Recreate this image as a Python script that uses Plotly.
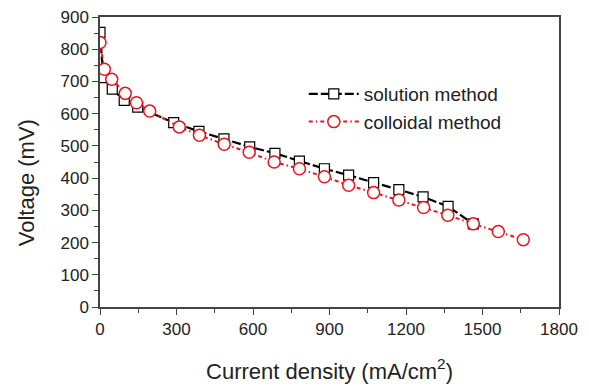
import plotly.graph_objects as go

# Solution method (black squares)
sol_x = [0, 13, 48, 95, 148, 289, 388, 486, 587, 686, 782, 880, 975, 1073, 1172, 1267, 1365, 1464]
sol_y = [852, 712, 676, 641, 620, 572, 545, 522, 497, 477, 453, 429, 409, 386, 364, 342, 312, 258]

# Colloidal method (red circles)
col_x = [0, 17, 46, 99, 143, 195, 311, 390, 487, 585, 683, 782, 880, 975, 1073, 1172, 1269, 1364, 1464, 1562, 1660]
col_y = [821, 738, 707, 663, 634, 608, 559, 533, 505, 480, 450, 429, 404, 378, 355, 332, 309, 285, 258, 234, 209]

x_ticks = [0, 300, 600, 900, 1200, 1500, 1800]
y_ticks = [0, 100, 200, 300, 400, 500, 600, 700, 800, 900]

FONT = "Liberation Sans, Arial, Helvetica, sans-serif"

fig = go.Figure()
fig.add_trace(go.Scatter(
    x=sol_x, y=sol_y, mode="lines+markers", name="solution method",
    line=dict(color="black", width=2.2, dash="9px,3px"),
    marker=dict(symbol="square", size=10, color="white", line=dict(width=1.2, color="black")),
))
fig.add_trace(go.Scatter(
    x=col_x, y=col_y, mode="lines+markers", name="colloidal method",
    line=dict(color="#e8141c", width=2, dash="4px,3px,1.5px,3px"),
    marker=dict(symbol="circle", size=12, color="white", line=dict(width=1.5, color="#e8141c")),
))

axis_common = dict(
    showline=True, linecolor="#444", linewidth=1.5, mirror=True,
    ticks="outside", ticklen=6, tickwidth=1.2, tickcolor="#444",
    showgrid=False, zeroline=False, automargin=False,
    ticklabeloverflow="allow",
    tickfont=dict(family=FONT, size=17, color="#222"),
)

fig.update_layout(
    width=589, height=386,
    margin=dict(l=92, r=38, t=9, b=87),
    paper_bgcolor="white", plot_bgcolor="white",
    font=dict(family=FONT, color="#222"),
    showlegend=True,
    legend=dict(
        x=0.444, y=0.686, xanchor="left", yanchor="middle", itemwidth=50,
        bgcolor="rgba(0,0,0,0)", font=dict(family=FONT, size=19, color="#222"),
    ),
    xaxis=dict(
        range=[0, 1800], tickvals=x_ticks, ticktext=[str(v) for v in x_ticks],
        minor=dict(dtick=150, tick0=0, ticks="outside", ticklen=4, tickcolor="#444", showgrid=False),
        title=dict(text="Current density (mA/cm<sup>2</sup>)", font=dict(family=FONT, size=22, color="#222"), standoff=25),
        **axis_common,
    ),
    yaxis=dict(
        range=[0, 900], tickvals=y_ticks, ticktext=[str(v) for v in y_ticks],
        minor=dict(dtick=50, tick0=0, ticks="outside", ticklen=4, tickcolor="#444", showgrid=False),
        **axis_common,
    ),
    annotations=[dict(
        text="Voltage (mV)", xref="paper", yref="paper", x=-0.161, y=0.427,
        xanchor="center", yanchor="middle", textangle=-90, showarrow=False,
        font=dict(family=FONT, size=22, color="#222"),
    )],
)

fig.write_html("out.html")
